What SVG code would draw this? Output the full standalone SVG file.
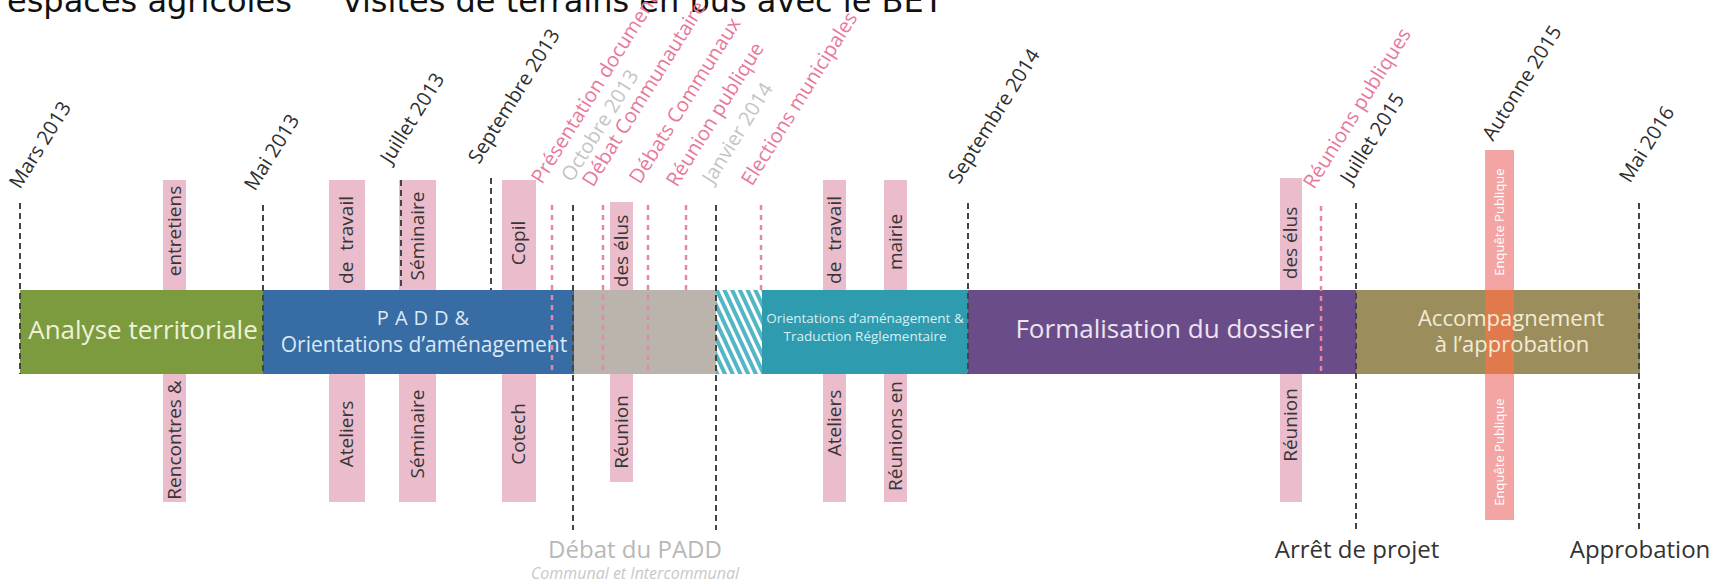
<svg xmlns="http://www.w3.org/2000/svg" width="1718" height="584" viewBox="0 0 1718 584">
<style>
  .top { font-family: "DejaVu Sans", Verdana, sans-serif; font-size: 32px; fill: #111; }
  .lbl { font-family: "Open Sans", "Noto Sans", sans-serif; font-size: 20px; }
  .dk { fill: #2e2e2e; }
  .pk { fill: #e8789b; }
  .gy { fill: #c4c4c4; }
  .ev rect { fill: #ebbdcc; }
  .evt { font-family: "Open Sans", "Noto Sans", sans-serif; font-size: 19px; fill: #363636; text-anchor: middle; }
  .ph text { font-family: "Open Sans", "Noto Sans", sans-serif; text-anchor: middle; }
  .dl { stroke: #444; stroke-width: 2; stroke-dasharray: 6 4; fill: none; }
  .pl { stroke: #ea86a4; stroke-width: 2.5; stroke-dasharray: 5 5; fill: none; }
  .ms { font-family: "Open Sans", "Noto Sans", sans-serif; font-size: 24px; text-anchor: middle; }
  .ep { font-family: "Open Sans", "Noto Sans", sans-serif; font-size: 13px; fill: #ffffff; text-anchor: middle; }
</style>
<defs>
  <pattern id="hatch" patternUnits="userSpaceOnUse" width="7" height="7" patternTransform="rotate(-25)">
    <rect width="7" height="7" fill="#ffffff"/>
    <rect width="4" height="7" fill="#52b6c7"/>
  </pattern>
</defs>

<!-- clipped heading text -->
<g id="heading">
  <text class="top" x="7" y="12">espaces agricoles</text>
  <text class="top" x="343" y="12">visites de terrains en bus avec le BET</text>
</g>

<!-- event bars (behind the phases) -->
<g id="ev-entretiens" class="ev">
  <rect x="163" y="180" width="23" height="322"/>
  <text class="evt" transform="translate(180.5,231) rotate(-90)">entretiens</text>
  <text class="evt" transform="translate(180.5,440) rotate(-90)">Rencontres &amp;</text>
</g>
<g id="ev-ateliers1" class="ev">
  <rect x="329" y="180" width="36" height="322"/>
  <text class="evt" transform="translate(353,240) rotate(-90)" word-spacing="6">de travail</text>
  <text class="evt" transform="translate(353,434) rotate(-90)">Ateliers</text>
</g>
<g id="ev-seminaire" class="ev">
  <rect x="399" y="180" width="37" height="322"/>
  <text class="evt" transform="translate(423.5,236) rotate(-90)">Séminaire</text>
  <text class="evt" transform="translate(423.5,434) rotate(-90)">Séminaire</text>
</g>
<g id="ev-copil" class="ev">
  <rect x="502" y="180" width="34" height="322"/>
  <text class="evt" transform="translate(525,243) rotate(-90)">Copil</text>
  <text class="evt" transform="translate(525,434) rotate(-90)">Cotech</text>
</g>
<g id="ev-elus1" class="ev">
  <rect x="610" y="202" width="23" height="280"/>
  <text class="evt" transform="translate(627.5,251) rotate(-90)">des élus</text>
  <text class="evt" transform="translate(627.5,432) rotate(-90)">Réunion</text>
</g>
<g id="ev-ateliers2" class="ev">
  <rect x="823" y="180" width="23" height="322"/>
  <text class="evt" transform="translate(840.5,240) rotate(-90)" word-spacing="6">de travail</text>
  <text class="evt" transform="translate(840.5,423) rotate(-90)">Ateliers</text>
</g>
<g id="ev-mairie" class="ev">
  <rect x="884" y="180" width="23" height="322"/>
  <text class="evt" transform="translate(901.5,242) rotate(-90)">mairie</text>
  <text class="evt" transform="translate(901.5,436) rotate(-90)">Réunions en</text>
</g>
<g id="ev-elus2" class="ev">
  <rect x="1280" y="178" width="22" height="324"/>
  <text class="evt" transform="translate(1297,243) rotate(-90)">des élus</text>
  <text class="evt" transform="translate(1297,425) rotate(-90)">Réunion</text>
</g>
<g id="ev-enquete">
  <rect x="1485" y="150" width="29" height="370" fill="#f2a5a3"/>
  <text class="ep" transform="translate(1504,222) rotate(-90)">Enquête Publique</text>
  <text class="ep" transform="translate(1504,452) rotate(-90)">Enquête Publique</text>
</g>

<!-- phases -->
<g id="ph-analyse" class="ph">
  <rect x="20" y="290" width="243" height="84" fill="#7c9a3e"/>
  <text x="143" y="339" font-size="26" fill="#eef2d8">Analyse territoriale</text>
</g>
<g id="ph-padd" class="ph">
  <rect x="263" y="290" width="311" height="84" fill="#376da4"/>
  <text x="426" y="325" font-size="20" fill="#dce8f5" letter-spacing="6">PADD&amp;</text>
  <text x="424" y="352" font-size="21" fill="#dce8f5">Orientations d’aménagement</text>
</g>
<g id="ph-debat" class="ph">
  <rect x="574" y="290" width="142" height="84" fill="#bab4ad"/>
</g>
<g id="ph-hatch" class="ph">
  <rect x="716" y="290" width="46" height="84" fill="url(#hatch)"/>
</g>
<g id="ph-traduction" class="ph">
  <rect x="762" y="290" width="206" height="84" fill="#2e9bae"/>
  <text x="865" y="323" font-size="13.5" fill="#d6f0f5">Orientations d’aménagement &amp;</text>
  <text x="865" y="341" font-size="13.5" fill="#d6f0f5">Traduction Réglementaire</text>
</g>
<g id="ph-formalisation" class="ph">
  <rect x="968" y="290" width="388" height="84" fill="#6a4d88"/>
  <text x="1165" y="338" font-size="26" fill="#ece4f2">Formalisation du dossier</text>
</g>
<g id="ph-accompagnement" class="ph">
  <rect x="1356" y="290" width="284" height="84" fill="#9c8e5c"/>
  <rect x="1485" y="290" width="29" height="84" fill="#e07a4c"/>
  <text x="1511" y="326" font-size="22" fill="#f2ecd6">Accompagnement</text>
  <text x="1512" y="352" font-size="22" fill="#f2ecd6">à l’approbation</text>
</g>

<!-- connectors: dashed milestone lines -->
<g id="connectors">
  <line class="dl" x1="20" y1="203" x2="20" y2="374"/>
  <line class="dl" x1="263" y1="205" x2="263" y2="374"/>
  <line class="dl" x1="401" y1="180" x2="401" y2="290"/>
  <line class="dl" x1="491" y1="178" x2="491" y2="290"/>
  <line class="dl" x1="573" y1="205" x2="573" y2="530"/>
  <line class="dl" x1="716" y1="205" x2="716" y2="530"/>
  <line class="dl" x1="968" y1="203" x2="968" y2="374"/>
  <line class="dl" x1="1356" y1="203" x2="1356" y2="530"/>
  <line class="dl" x1="1639" y1="203" x2="1639" y2="530"/>
  <line class="pl" x1="552" y1="205" x2="552" y2="374"/>
  <line class="pl" x1="603" y1="205" x2="603" y2="374"/>
  <line class="pl" x1="648" y1="205" x2="648" y2="374"/>
  <line class="pl" x1="686" y1="205" x2="686" y2="290"/>
  <line class="pl" x1="761" y1="205" x2="761" y2="290"/>
  <line class="pl" x1="1321" y1="206" x2="1321" y2="374"/>
</g>

<!-- rotated date / event labels -->
<g id="labels" class="lbl">
  <text class="dk" transform="translate(20,190) rotate(-58)">Mars 2013</text>
  <text class="dk" transform="translate(255,192) rotate(-58)">Mai 2013</text>
  <text class="dk" transform="translate(391,165) rotate(-58)">Juillet 2013</text>
  <text class="dk" transform="translate(479,165) rotate(-58)">Septembre 2013</text>
  <text class="pk" transform="translate(542,185) rotate(-58)">Présentation document</text>
  <text class="gy" transform="translate(572,183) rotate(-58)">Octobre 2013</text>
  <text class="pk" transform="translate(593,188) rotate(-58)">Débat Communautaire</text>
  <text class="pk" transform="translate(640,185) rotate(-58)">Débats Communaux</text>
  <text class="pk" transform="translate(677,188) rotate(-58)">Réunion publique</text>
  <text class="gy" transform="translate(713,185) rotate(-58)">Janvier 2014</text>
  <text class="pk" transform="translate(752,187) rotate(-58)">Elections municipales</text>
  <text class="dk" transform="translate(959,185) rotate(-58)">Septembre 2014</text>
  <text class="pk" transform="translate(1314,190) rotate(-58)">Réunions publiques</text>
  <text class="dk" transform="translate(1351,185) rotate(-58)">Juillet 2015</text>
  <text class="dk" transform="translate(1493,142) rotate(-58)">Autonne 2015</text>
  <text class="dk" transform="translate(1630,184) rotate(-58)">Mai 2016</text>
</g>

<!-- milestone captions -->
<g id="ms-debat">
  <text class="ms" x="635" y="558" fill="#b8b8b8">Débat du PADD</text>
  <text x="635" y="579" font-family="Open Sans, sans-serif" font-size="16" font-style="italic" fill="#c8c8c8" text-anchor="middle">Communal et Intercommunal</text>
</g>
<g id="ms-arret">
  <text class="ms" x="1357" y="558" fill="#333">Arrêt de projet</text>
</g>
<g id="ms-approbation">
  <text class="ms" x="1640" y="558" fill="#333">Approbation</text>
</g>
</svg>
